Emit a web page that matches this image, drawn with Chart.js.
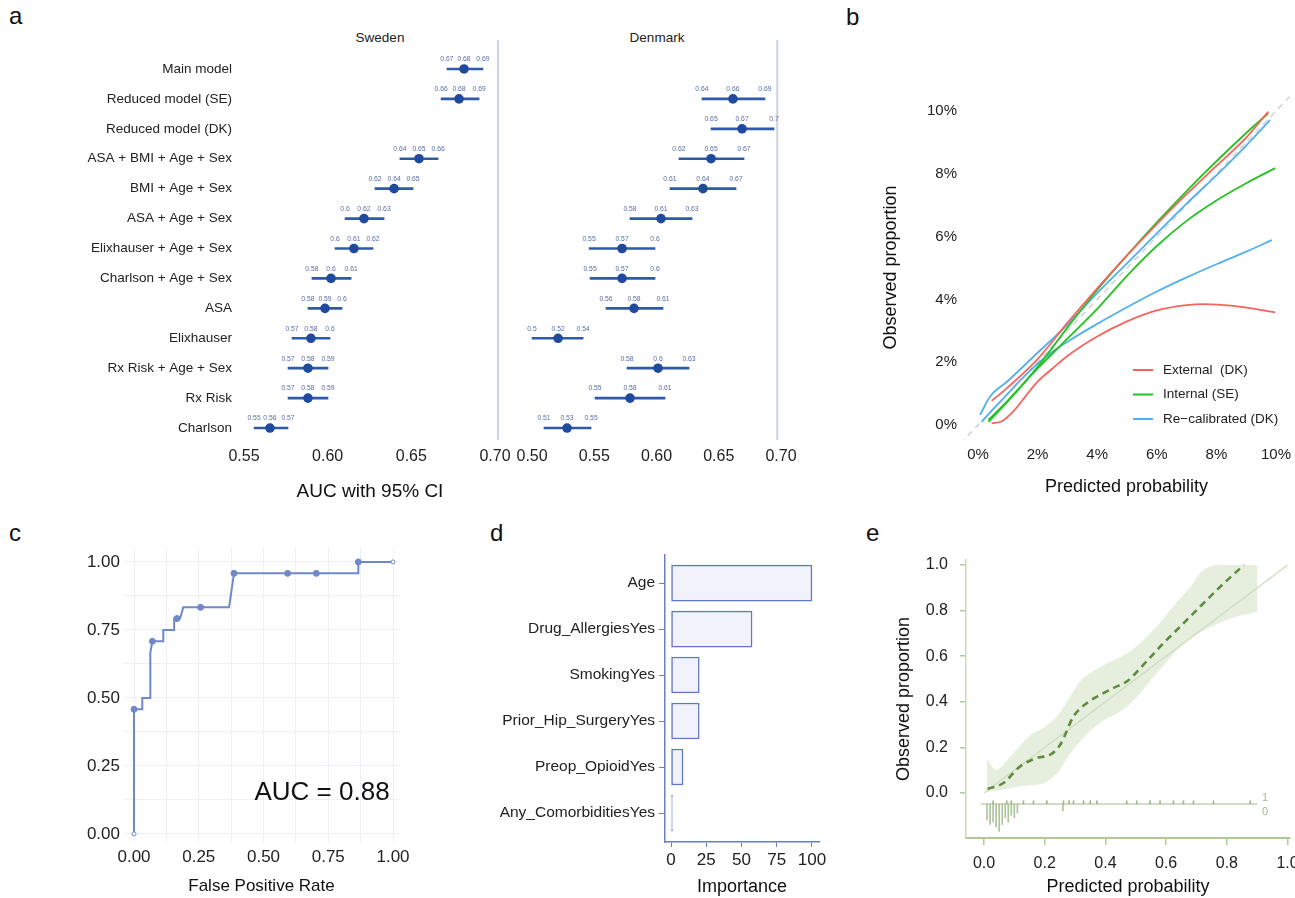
<!DOCTYPE html>
<html>
<head>
<meta charset="utf-8">
<script src="https://cdn.jsdelivr.net/npm/chart.js@4.4.1/dist/chart.umd.min.js"></script>
<style>
  html, body { margin: 0; padding: 0; background: #fff; overflow: hidden; width: 1295px; height: 898px; }
  body { position: relative; font-family: "Liberation Sans", Arial, sans-serif; color: #111; }
  canvas { position: absolute; }
  .panel { position: absolute; font-size: 24px; line-height: 24px; }
  .facet { position: absolute; font-size: 13.5px; line-height: 15px; transform: translateX(-50%); white-space: nowrap; color: #222; }
</style>
</head>
<body>
<div class="panel" style="left:9px;top:4px">a</div>
<div class="panel" style="left:846px;top:5px">b</div>
<div class="panel" style="left:9px;top:521px">c</div>
<div class="panel" style="left:490px;top:521px">d</div>
<div class="panel" style="left:866px;top:521px">e</div>
<div class="facet" style="left:380px;top:30px">Sweden</div>
<div class="facet" style="left:657px;top:30px">Denmark</div>

<canvas id="se" width="520" height="510" style="left:0;top:0"></canvas>
<canvas id="dk" width="305" height="510" style="left:505px;top:0"></canvas>
<canvas id="cal" width="440" height="460" style="left:870px;top:60px"></canvas>
<canvas id="roc" width="380" height="380" style="left:40px;top:520px"></canvas>
<canvas id="imp" width="360" height="380" style="left:470px;top:520px"></canvas>
<canvas id="cal2" width="440" height="380" style="left:870px;top:520px"></canvas>

<script>
// ---- panel a: AUC forest plot ----
const MODELS = ['Main model', 'Reduced model (SE)', 'Reduced model (DK)', 'ASA + BMI + Age + Sex',
  'BMI + Age + Sex', 'ASA + Age + Sex', 'Elixhauser + Age + Sex', 'Charlson + Age + Sex', 'ASA',
  'Elixhauser', 'Rx Risk + Age + Sex', 'Rx Risk', 'Charlson'];

const SE_MID = [0.6815, 0.6785, null, 0.6546, 0.6397, 0.6217, 0.6157, 0.6020, 0.5984, 0.5900, 0.5882, 0.5882, 0.5655];
const SE_LO  = [0.6713, 0.6678, null, 0.6432, 0.6283, 0.6104, 0.6044, 0.5906, 0.5882, 0.5787, 0.5763, 0.5763, 0.5560];
const SE_HI  = [0.6928, 0.6905, null, 0.6660, 0.6510, 0.6337, 0.6271, 0.6140, 0.6086, 0.6014, 0.6002, 0.6002, 0.5763];
const SE_LBL = [['0.67', '0.68', '0.69'], ['0.66', '0.68', '0.69'], null, ['0.64', '0.65', '0.66'],
  ['0.62', '0.64', '0.65'], ['0.6', '0.62', '0.63'], ['0.6', '0.61', '0.62'], ['0.58', '0.6', '0.61'],
  ['0.58', '0.59', '0.6'], ['0.57', '0.58', '0.6'], ['0.57', '0.58', '0.59'], ['0.57', '0.58', '0.59'],
  ['0.55', '0.56', '0.57']];

const DK_MID = [null, 0.6614, 0.6687, 0.6438, 0.6373, 0.6036, 0.5723, 0.5723, 0.5819, 0.5209, 0.6012, 0.5787, 0.5281];
const DK_LO  = [null, 0.6365, 0.6438, 0.6180, 0.6108, 0.5787, 0.5458, 0.5466, 0.5594, 0.5000, 0.5763, 0.5506, 0.5096];
const DK_HI  = [null, 0.6871, 0.6944, 0.6703, 0.6639, 0.6285, 0.5988, 0.5988, 0.6052, 0.5410, 0.6261, 0.6068, 0.5474];
const DK_LBL = [null, ['0.64', '0.66', '0.69'], ['0.65', '0.67', '0.7'], ['0.62', '0.65', '0.67'],
  ['0.61', '0.64', '0.67'], ['0.58', '0.61', '0.63'], ['0.55', '0.57', '0.6'], ['0.55', '0.57', '0.6'],
  ['0.56', '0.58', '0.61'], ['0.5', '0.52', '0.54'], ['0.58', '0.6', '0.63'], ['0.55', '0.58', '0.61'],
  ['0.51', '0.53', '0.55']];

const SE_TICKS = [0.55, 0.60, 0.65, 0.70];
const DK_TICKS = [0.50, 0.55, 0.60, 0.65, 0.70];

// ---- panel b: calibration curves (percent) ----
const EXT_A = [[0.46, 0.77], [1.0, 1.2], [2.0, 2.1], [3.0, 3.25], [4.0, 4.35], [5.0, 5.4], [6.0, 6.4],
  [7.0, 7.35], [8.0, 8.25], [9.0, 9.15], [9.74, 9.98]];
const EXT_B = [[0.46, 0.05], [0.8, 0.12], [1.2, 0.45], [1.6, 0.92], [2.0, 1.38], [2.5, 1.8], [3.0, 2.2],
  [4.0, 2.82], [5.0, 3.3], [6.0, 3.65], [7.0, 3.82], [7.6, 3.85], [8.5, 3.8], [9.97, 3.59]];
const INT_A = [[0.35, 0.1], [1.0, 0.75], [2.0, 1.85], [3.0, 3.1], [4.0, 4.3], [5.0, 5.4], [6.0, 6.45],
  [7.0, 7.45], [8.0, 8.4], [9.0, 9.3], [9.74, 9.93]];
const INT_B = [[0.35, 0.16], [1.0, 0.78], [2.0, 1.8], [3.0, 2.75], [4.0, 3.7], [5.0, 4.75], [6.0, 5.7],
  [7.0, 6.5], [8.0, 7.15], [9.0, 7.7], [9.97, 8.18]];
const REC_A = [[0.07, 0.32], [0.4, 0.9], [1.0, 1.4], [2.0, 2.3], [3.0, 3.2], [4.0, 4.2], [5.0, 5.15],
  [6.0, 6.1], [7.0, 7.05], [8.0, 7.95], [9.0, 8.9], [9.8, 9.71]];
const REC_B = [[0.12, 0.1], [0.6, 0.6], [1.0, 1.0], [1.5, 1.5], [2.0, 1.95], [2.5, 2.33], [3.0, 2.65],
  [4.0, 3.22], [5.0, 3.75], [6.0, 4.25], [7.0, 4.7], [8.0, 5.12], [9.0, 5.52], [9.86, 5.89]];
const PCT_TICKS = [0, 2, 4, 6, 8, 10];
const PCT_LABELS = ['0%', '2%', '4%', '6%', '8%', '10%'];

// ---- panel c: ROC ----
const ROC_FPR = [0, 0, 0.032, 0.032, 0.063, 0.063, 0.071, 0.113, 0.113, 0.155, 0.155, 0.166, 0.178, 0.19, 0.257, 0.367, 0.386, 0.593, 0.704, 0.866, 0.866, 1.0];
const ROC_TPR = [0, 0.458, 0.458, 0.5, 0.5, 0.667, 0.708, 0.708, 0.75, 0.75, 0.792, 0.792, 0.792, 0.833, 0.833, 0.833, 0.958, 0.958, 0.958, 0.958, 1.0, 1.0];
const ROC_MARK_FPR = [0, 0, 0.071, 0.166, 0.257, 0.386, 0.593, 0.704, 0.866, 1.0];
const ROC_MARK_TPR = [0, 0.458, 0.708, 0.792, 0.833, 0.958, 0.958, 0.958, 1.0, 1.0];
const ROC_GRID = [0, 0.125, 0.25, 0.375, 0.5, 0.625, 0.75, 0.875, 1];
const ROC_LABELS = ['0.00', '', '0.25', '', '0.50', '', '0.75', '', '1.00'];

// ---- panel d: variable importance ----
const FEATURES = ['Age', 'Drug_AllergiesYes', 'SmokingYes', 'Prior_Hip_SurgeryYes', 'Preop_OpioidYes', 'Any_ComorbiditiesYes'];
const IMPORTANCE = [100, 57.5, 20, 20, 8.5, 1];
const IMP_TICKS = [0, 25, 50, 75, 100];

// ---- panel e: calibration with band ----
const DASH_X = [0.012, 0.064, 0.119, 0.174, 0.218, 0.251, 0.295, 0.339, 0.383, 0.427, 0.471, 0.515, 0.581, 0.647, 0.713, 0.779, 0.856];
const DASH_Y = [0.018, 0.044, 0.117, 0.154, 0.168, 0.212, 0.336, 0.395, 0.431, 0.461, 0.490, 0.548, 0.643, 0.731, 0.819, 0.906, 1.0];
const BAND_X = [0.01, 0.04, 0.08, 0.12, 0.16, 0.2, 0.24, 0.28, 0.32, 0.36, 0.4, 0.44, 0.48, 0.52, 0.56, 0.6, 0.64, 0.68, 0.72, 0.76, 0.8, 0.84, 0.88, 0.9];
const BAND_HI = [0.15, 0.10, 0.15, 0.21, 0.26, 0.29, 0.335, 0.415, 0.495, 0.535, 0.565, 0.59, 0.62, 0.665, 0.717, 0.78, 0.845, 0.905, 0.975, 1.0, 1.0, 1.0, 1.0, 1.0];
const BAND_LO = [0.005, 0.01, 0.02, 0.03, 0.035, 0.045, 0.086, 0.165, 0.232, 0.285, 0.324, 0.35, 0.39, 0.447, 0.512, 0.575, 0.632, 0.678, 0.71, 0.736, 0.759, 0.777, 0.789, 0.795];
const RUG1_X = [0.03, 0.075, 0.09, 0.13, 0.163, 0.207, 0.262, 0.28, 0.295, 0.328, 0.35, 0.372, 0.47, 0.503, 0.547, 0.58, 0.624, 0.657, 0.69, 0.756, 0.877];
const RUG0_X = [0.01, 0.02, 0.03, 0.04, 0.05, 0.06, 0.07, 0.08, 0.09, 0.1, 0.11, 0.26];
const RUG0_H = [0.07, 0.09, 0.08, 0.1, 0.12, 0.09, 0.06, 0.08, 0.05, 0.06, 0.04, 0.03];
const RUG_BASE = -0.048;
const E_TICKS = [0, 0.2, 0.4, 0.6, 0.8, 1.0];
const E_LABELS = ['0.0', '0.2', '0.4', '0.6', '0.8', '1.0'];

const FONT = '"Liberation Sans", Arial, Helvetica, sans-serif';
Chart.defaults.font.family = FONT;
Chart.defaults.color = '#222';
Chart.defaults.animation = false;
Chart.defaults.responsive = false;
Chart.defaults.devicePixelRatio = 1;
Chart.defaults.plugins.legend.display = false;
Chart.defaults.plugins.tooltip.enabled = false;

// fix the box size of an axis so the plot area lands where we want it
function fixAxis(px) {
  return function (s) {
    if (s.isHorizontal()) s.height = px; else s.width = px;
    s.paddingLeft = s.paddingRight = s.paddingTop = s.paddingBottom = 0;
  };
}
function setTicks(values) {
  return function (s) { s.ticks = values.map(v => ({ value: v })); };
}

// free text placed in data coordinates
const textMarks = {
  id: 'textMarks',
  afterDraw(chart, args, opts) {
    const { ctx, scales } = chart;
    (opts.items || []).forEach(t => {
      ctx.save();
      ctx.font = t.font;
      ctx.fillStyle = t.color || '#222';
      ctx.textAlign = t.align || 'center';
      ctx.textBaseline = 'middle';
      ctx.fillText(t.text, scales.x.getPixelForValue(t.x), scales.y.getPixelForValue(t.y));
      ctx.restore();
    });
  }
};
Chart.register(textMarks);

// reference line + small value labels over each CI
const forestDecor = {
  id: 'forestDecor',
  beforeDatasetsDraw(chart, args, o) {
    const { ctx, scales: { x }, chartArea } = chart;
    const rx = x.getPixelForValue(o.ref);
    ctx.save();
    ctx.strokeStyle = '#ccd3e7';
    ctx.lineWidth = 2;
    ctx.beginPath();
    ctx.moveTo(rx, chartArea.top - 14);
    ctx.lineTo(rx, chartArea.bottom - 3);
    ctx.stroke();
    ctx.restore();
  },
  afterDatasetsDraw(chart, args, o) {
    const { ctx, scales: { x, y } } = chart;
    ctx.save();
    ctx.font = '6.8px ' + FONT;
    ctx.fillStyle = '#5a6ea6';
    ctx.textAlign = 'center';
    ctx.textBaseline = 'middle';
    o.lo.forEach((v, i) => {
      if (v == null) return;
      const py = y.getPixelForValue(i) - 9.5;
      [v, o.mid[i], o.hi[i]].forEach((val, k) => ctx.fillText(o.lbl[i][k], x.getPixelForValue(val), py));
    });
    ctx.restore();
  }
};

function forest(id, lo, mid, hi, lbl, xMin, xMax, ticks, showY, padding, title, ref) {
  return new Chart(document.getElementById(id), {
    type: 'bar',
    data: {
      labels: MODELS,
      datasets: [
        { type: 'line', indexAxis: 'y', data: mid, showLine: false, pointRadius: 4.8,
          pointBackgroundColor: '#1f4a9e', pointBorderColor: '#1f4a9e', pointBorderWidth: 0 },
        { type: 'bar', indexAxis: 'y', data: lo.map((v, i) => v == null ? null : [v, hi[i]]),
          backgroundColor: '#2f5aa8', barThickness: 2, grouped: false }
      ]
    },
    options: {
      indexAxis: 'y',
      layout: { padding: padding },
      scales: {
        x: {
          type: 'linear', min: xMin, max: xMax,
          afterFit: fixAxis(67), afterBuildTicks: setTicks(ticks),
          grid: { display: false, drawTicks: false }, border: { display: false },
          ticks: { font: { size: 16 }, padding: 4, maxRotation: 0, autoSkip: false,
                   callback: (v, i) => ticks[i].toFixed(2) },
          title: { display: !!title, text: title, font: { size: 19 }, color: '#111', padding: { top: 0, bottom: 7 } }
        },
        y: {
          display: showY,
          afterFit: fixAxis(showY ? 240 : 0),
          grid: { display: false, drawTicks: false }, border: { display: false },
          ticks: { font: { size: 13.5 }, padding: 8, color: '#222' }
        }
      },
      plugins: { forestDecor: { ref, lo, mid, hi, lbl } }
    },
    plugins: [forestDecor]
  });
}

forest('se', SE_LO, SE_MID, SE_HI, SE_LBL, 0.5476, 0.703, SE_TICKS, true,
  { left: 0, top: 54, right: 20, bottom: 0 }, 'AUC with 95% CI', 0.7018);
forest('dk', DK_LO, DK_MID, DK_HI, DK_LBL, 0.4871, 0.7008, DK_TICKS, false,
  { left: 11, top: 54, right: 28, bottom: 0 }, '', 0.6970);

// ---- panel b ----
const toXY = arr => arr.map(p => ({ x: p[0], y: p[1] }));
const calLine = (pts, color) => ({ data: toXY(pts), borderColor: color, borderWidth: 1.8, pointRadius: 0,
  cubicInterpolationMode: 'monotone', fill: false });
const RED = '#f5655d', GREEN = '#22c322', BLUE = '#52b0ee';

const calLegend = {
  id: 'calLegend',
  afterDraw(chart, args, o) {
    const { ctx, chartArea } = chart;
    ctx.save();
    ctx.font = '13.5px ' + FONT;
    ctx.textBaseline = 'middle';
    o.items.forEach((it, i) => {
      const y = chartArea.top + o.top + i * o.gap;
      const x = chartArea.left + o.left;
      ctx.strokeStyle = it.color;
      ctx.lineWidth = 2;
      ctx.beginPath(); ctx.moveTo(x, y); ctx.lineTo(x + 20, y); ctx.stroke();
      ctx.fillStyle = '#222';
      ctx.fillText(it.label, x + 30, y);
    });
    ctx.restore();
  }
};

new Chart(document.getElementById('cal'), {
  type: 'line',
  data: {
    datasets: [
      calLine(EXT_A, RED), calLine(EXT_B, RED),
      calLine(INT_A, GREEN), calLine(INT_B, GREEN),
      calLine(REC_A, BLUE), calLine(REC_B, BLUE),
      { data: [{ x: -0.6, y: -0.6 }, { x: 10.6, y: 10.6 }], borderColor: '#d2d2d2', borderWidth: 1.5,
        borderDash: [6, 5], pointRadius: 0 }
    ]
  },
  options: {
    layout: { padding: { left: 0, top: 35, right: 20, bottom: 0 } },
    scales: {
      x: {
        type: 'linear', min: -0.503, max: 10.47,
        afterFit: fixAxis(80), afterBuildTicks: setTicks(PCT_TICKS),
        grid: { display: false, drawTicks: false }, border: { display: false },
        ticks: { font: { size: 15 }, padding: 6, maxRotation: 0, autoSkip: false, callback: (v, i) => PCT_LABELS[i] },
        title: { display: true, text: 'Predicted probability', font: { size: 18 }, color: '#111', padding: { top: 0, bottom: 22 } }
      },
      y: {
        type: 'linear', min: -0.478, max: 10.51,
        afterFit: fixAxis(93), afterBuildTicks: setTicks(PCT_TICKS),
        grid: { display: false, drawTicks: false }, border: { display: false },
        ticks: { font: { size: 15 }, padding: 6, autoSkip: false, callback: (v, i) => PCT_LABELS[i] },
        title: { display: true, text: 'Observed proportion', font: { size: 18 }, color: '#111', padding: { top: 10, bottom: 0 } }
      }
    },
    plugins: {
      calLegend: {
        left: 170, top: 275, gap: 24.5,
        items: [{ label: 'External  (DK)', color: RED }, { label: 'Internal (SE)', color: GREEN },
                { label: 'Re\u2212calibrated (DK)', color: BLUE }]
      }
    }
  },
  plugins: [calLegend]
});

// ---- panel c ----
const ROC_COLOR = '#6f88c8';
new Chart(document.getElementById('roc'), {
  type: 'line',
  data: {
    datasets: [
      { data: ROC_MARK_FPR.map((x, i) => ({ x, y: ROC_MARK_TPR[i] })), showLine: false,
        pointRadius: ctx => (ctx.dataIndex === 0 || ctx.dataIndex === ROC_MARK_FPR.length - 1) ? 2 : 3,
        pointBackgroundColor: ctx => (ctx.dataIndex === 0 || ctx.dataIndex === ROC_MARK_FPR.length - 1) ? '#fff' : ROC_COLOR,
        pointBorderColor: ROC_COLOR, pointBorderWidth: 1 },
      { data: ROC_FPR.map((x, i) => ({ x, y: ROC_TPR[i] })), borderColor: ROC_COLOR, borderWidth: 2,
        pointRadius: 0, tension: 0 }
    ]
  },
  options: {
    layout: { padding: { left: 0, top: 27, right: 20, bottom: 0 } },
    scales: {
      x: {
        type: 'linear', min: -0.0425, max: 1.027,
        afterFit: fixAxis(58), afterBuildTicks: setTicks(ROC_GRID),
        grid: { color: '#eef0f5', drawTicks: false }, border: { display: false },
        ticks: { font: { size: 17 }, padding: 5, maxRotation: 0, autoSkip: false, callback: (v, i) => ROC_LABELS[i] },
        title: { display: true, text: 'False Positive Rate', font: { size: 17 }, color: '#111', padding: { top: 0, bottom: 3 } }
      },
      y: {
        type: 'linear', min: -0.03, max: 1.055,
        afterFit: fixAxis(83), afterBuildTicks: setTicks(ROC_GRID),
        grid: { color: '#eef0f5', drawTicks: false }, border: { display: false },
        ticks: { font: { size: 17 }, padding: 3, autoSkip: false, callback: (v, i) => ROC_LABELS[i] }
      }
    },
    plugins: { textMarks: { items: [{ text: 'AUC = 0.88', x: 0.726, y: 0.151, font: '26px ' + FONT, color: '#111' }] } }
  }
});

// ---- panel d ----
const AXIS_BLUE = '#6a7fc6';
new Chart(document.getElementById('imp'), {
  type: 'bar',
  data: {
    datasets: [{
      data: FEATURES.map((f, i) => ({ x: IMPORTANCE[i], y: i })),
      backgroundColor: '#f2f3fa', borderColor: '#5f77c5', borderWidth: 1.5, borderSkipped: false,
      barThickness: 36
    }]
  },
  options: {
    indexAxis: 'y',
    layout: { padding: { left: 0, top: 35, right: 11, bottom: 0 } },
    scales: {
      x: {
        type: 'linear', min: -4.3, max: 105,
        afterFit: fixAxis(58), afterBuildTicks: setTicks(IMP_TICKS),
        grid: { drawOnChartArea: false, color: AXIS_BLUE, tickLength: 5 },
        border: { color: AXIS_BLUE, width: 1.5 },
        ticks: { font: { size: 17 }, padding: 3, maxRotation: 0, autoSkip: false, callback: (v, i) => String(IMP_TICKS[i]) },
        title: { display: true, text: 'Importance', font: { size: 18 }, color: '#111', padding: { top: 0, bottom: 2 } }
      },
      y: {
        type: 'linear', reverse: true, min: -0.61, max: 5.63, offset: false,
        afterFit: fixAxis(195), afterBuildTicks: setTicks(FEATURES.map((f, i) => i)),
        grid: { drawOnChartArea: false, color: AXIS_BLUE, tickLength: 6, offset: false },
        border: { color: AXIS_BLUE, width: 1.5 },
        ticks: { font: { size: 15.5 }, padding: 4, autoSkip: false, callback: (v, i) => FEATURES[i] }
      }
    }
  }
});

// ---- panel e ----
const E_AXIS = '#aecb94';
new Chart(document.getElementById('cal2'), {
  type: 'line',
  data: {
    datasets: [
      { data: DASH_X.map((x, i) => ({ x, y: DASH_Y[i] })), borderColor: '#5d8c3d', borderWidth: 2.6,
        borderDash: [7, 5], pointRadius: 0, cubicInterpolationMode: 'monotone' },
      { data: [{ x: 0, y: 0 }, { x: 1, y: 1 }], borderColor: '#cbdcbf', borderWidth: 1.2, pointRadius: 0 },
      { data: BAND_X.map((x, i) => ({ x, y: BAND_HI[i] })), borderWidth: 0, pointRadius: 0,
        fill: '+1', backgroundColor: 'rgba(205,222,188,0.5)', tension: 0.3 },
      { data: BAND_X.map((x, i) => ({ x, y: BAND_LO[i] })), borderWidth: 0, pointRadius: 0, tension: 0.3 },
      { data: [{ x: -0.01, y: RUG_BASE }, { x: 0.9, y: RUG_BASE }], borderColor: '#a3bd90', borderWidth: 1, pointRadius: 0 },
      { type: 'bar', data: RUG1_X.map(x => ({ x, y: [RUG_BASE, RUG_BASE + 0.014] })), backgroundColor: '#97b483',
        barThickness: 1, grouped: false },
      { type: 'bar', data: RUG0_X.map((x, i) => ({ x, y: [RUG_BASE - RUG0_H[i], RUG_BASE] })), backgroundColor: '#aec49d',
        barThickness: 1, grouped: false }
    ]
  },
  options: {
    layout: { padding: { left: 0, top: 40, right: 20, bottom: 0 } },
    scales: {
      x: {
        type: 'linear', min: -0.0593, max: 1.008, offset: false,
        afterFit: fixAxis(62), afterBuildTicks: setTicks(E_TICKS),
        grid: { drawOnChartArea: false, color: E_AXIS, tickLength: 7, lineWidth: 1.5, offset: false },
        border: { color: E_AXIS, width: 2 },
        ticks: { font: { size: 16 }, padding: 9, maxRotation: 0, autoSkip: false, callback: (v, i) => E_LABELS[i] },
        title: { display: true, text: 'Predicted probability', font: { size: 18 }, color: '#111', padding: { top: 0, bottom: 2 } }
      },
      y: {
        type: 'linear', min: -0.197, max: 1.022,
        afterFit: fixAxis(96), afterBuildTicks: setTicks(E_TICKS),
        grid: { drawOnChartArea: false, color: E_AXIS, tickLength: 6, lineWidth: 1.5 },
        border: { color: '#c8dab8', width: 1.5 },
        ticks: { font: { size: 16 }, padding: 12, autoSkip: false, callback: (v, i) => E_LABELS[i] },
        title: { display: true, text: 'Observed proportion', font: { size: 18 }, color: '#111', padding: { top: 23, bottom: 0 } }
      }
    },
    plugins: {
      textMarks: {
        items: [
          { text: '1', x: 0.926, y: -0.022, font: '11px ' + FONT, color: '#9fba8c' },
          { text: '0', x: 0.926, y: -0.083, font: '11px ' + FONT, color: '#9fba8c' }
        ]
      }
    }
  }
});
</script>
</body>
</html>
